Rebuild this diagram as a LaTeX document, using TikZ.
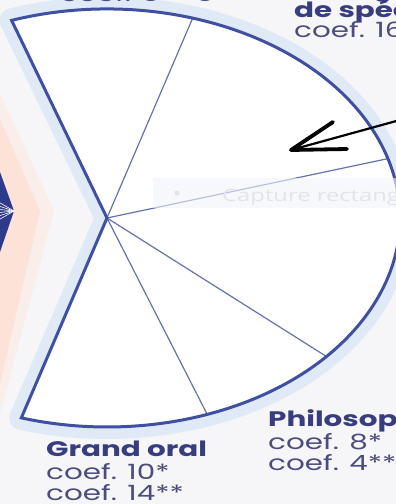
\documentclass[tikz,border=0pt]{standalone}
\usepackage{fontspec}
\usepackage{graphicx}
\setmainfont{Poppins}
\newfontfamily\capfont{Open Sans}
\usetikzlibrary{calc}
\definecolor{pieblue}{HTML}{3F50A2}
\definecolor{sliceblue}{HTML}{6672AE}
\definecolor{haloblue}{HTML}{E0EAF7}
\definecolor{bgpaper}{HTML}{F6F5F7}
\definecolor{peach}{HTML}{FCE2D7}
\definecolor{peachsoft}{HTML}{F9EEEA}
\definecolor{darkpie}{HTML}{2E3A8C}
\definecolor{navytext}{HTML}{383D80}
\definecolor{slatetext}{HTML}{4B4D7E}
\definecolor{ghosttext}{HTML}{E3E4EA}
\definecolor{ghostbox}{HTML}{F1F4FB}
\newcommand{\wide}[1]{\scalebox{1.4}[1]{#1}}

\begin{document}
\begin{tikzpicture}[x=1pt, y=1pt,
  outline/.style={draw=pieblue, line width=3pt},
  slice/.style={draw=sliceblue, line width=1.2pt},
  halo/.style={draw=haloblue, line width=24pt, line join=round},
  lblbold/.style={anchor=base west, inner sep=0pt, text=navytext, font=\fontsize{21}{21}\selectfont\bfseries},
  lbl/.style={anchor=base west, inner sep=0pt, text=slatetext, font=\fontsize{21}{21}\selectfont},
  handline/.style={draw=black, line width=2.2pt, line cap=round},
  handhead/.style={draw=black, line width=3.8pt, line cap=round, line join=round}]
  \useasboundingbox (0,0) rectangle (396,504);
  \clip (0,0) rectangle (396,504);
  \fill[bgpaper] (0,0) rectangle (396,504);

  % left pie (cut off) and its glow
  \fill[peachsoft] (0,90) -- (54,293) -- (0,410) -- cycle;
  \fill[peach] (0,120) -- (40,293) -- (0,385) -- cycle;
  \coordinate (L) at (14,293);
  \fill[darkpie] (0,252) -- (L) -- (0,332) -- cycle;
  \foreach \ang in {150,162,174,186,198,210}
    \draw[white, line width=0.6pt] (L) -- ++(\ang:20);

  % main pie
  \coordinate (V) at (107,286);
  \coordinate (pietl) at ($(V)+(109:293 and 209)$);
  \path[halo] (V) -- (pietl) arc[start angle=109, end angle=-107, x radius=293, y radius=209] -- cycle;
  \fill[white] (V) -- (pietl) arc[start angle=109, end angle=-107, x radius=293, y radius=209] -- cycle;
  \foreach \ang in {73,16.5,-41.5,-70}
    \draw[slice] (V) -- ($(V)+(\ang:293 and 209)$);
  \draw[outline] (V) -- (pietl) arc[start angle=109, end angle=-107, x radius=293, y radius=209] -- cycle;

  % screen capture tooltip
  \fill[ghostbox, fill opacity=0.6] (153,296) rectangle (400,326);
  \fill[ghosttext] (177,311) circle (2.5pt);
  \node[anchor=base west, inner sep=0pt, text=ghosttext, font=\capfont\fontsize{17}{17}\selectfont] (capture) at (222,302) {\wide{Capture rectangulaire}};

  % arrow
  \coordinate (arrowfrom) at (400,384);
  \coordinate (arrowtip) at (291,354);
  \coordinate (barbup) at (333,382);
  \coordinate (barblow) at (347,355);
  \draw[handline] (arrowfrom) -- (arrowtip);
  \draw[handhead] (barbup) -- (arrowtip) -- (barblow);

  % labels
  \node[lbl] (fr) at (60,502) {\wide{coef. 5 + 5}};
  \node[lblbold] (spe1) at (294,507) {\wide{Enseignements}};
  \node[lblbold] (spe2) at (294,486) {\wide{de spécialité}};
  \node[lbl] (spe3) at (294,466) {\wide{coef. 16}};
  \node[lblbold] (philo1) at (268,77) {\wide{Philosophie}};
  \node[lbl] (philo2) at (268,54) {\wide{coef. 8*}};
  \node[lbl] (philo3) at (268,34) {\wide{coef. 4**}};
  \node[lblbold] (go1) at (46,47) {\wide{Grand oral}};
  \node[lbl] (go2) at (46,24) {\wide{coef. 10*}};
  \node[lbl] (go3) at (46,4) {\wide{coef. 14**}};
\end{tikzpicture}
\end{document}
